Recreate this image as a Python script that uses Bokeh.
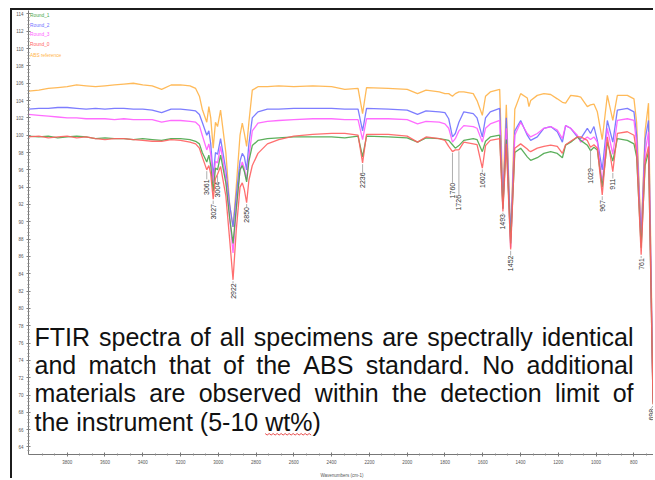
import numpy as np
from bokeh.plotting import figure
from bokeh.models import Range1d, FixedTicker
from bokeh.core.properties import value
from bokeh.embed import file_html
from bokeh.resources import INLINE

# ---------------- data ----------------
wavenumber = [4005, 3950, 3900, 3850, 3800, 3750, 3700, 3650, 3600, 3550, 3500, 3450, 3400,
              3350, 3300, 3250, 3200, 3150, 3120, 3100, 3085, 3061, 3050, 3040, 3027, 3015,
              3004, 2988, 2960, 2940, 2922, 2905, 2885, 2873, 2862, 2850, 2838, 2820, 2790,
              2740, 2680, 2600, 2500, 2400, 2330, 2260, 2236, 2215, 2100, 2000, 1945, 1900,
              1830, 1800, 1780, 1760, 1745, 1726, 1700, 1650, 1630, 1602, 1585, 1560, 1510,
              1493, 1475, 1452, 1430, 1399, 1364, 1355, 1346, 1311, 1276, 1240, 1205, 1178,
              1161, 1134, 1099, 1081, 1046, 1029, 1011, 993, 967, 940, 911, 887, 834, 799,
              785, 761, 740, 722, 698, 685]

abs_reference = [105.1, 105.2, 105.4, 105.5, 105.6, 105.8, 105.7, 105.6, 105.7, 105.8, 105.9, 106.0, 105.8,
                 105.7, 105.3, 105.8, 105.8, 105.7, 105.4, 104.5, 103.0, 101.5, 103.3, 102.0, 98.5, 101.5,
                 101.0, 102.9, 98.0, 92.0, 89.4, 94.0, 100.0, 101.4, 100.2, 98.7, 101.5, 105.2, 105.6,
                 105.6, 105.7, 105.6, 105.7, 105.6, 105.3, 105.4, 102.5, 105.5, 105.4, 105.3, 104.8, 105.2,
                 105.0, 104.8, 104.8, 104.5, 104.8, 105.0, 105.0, 104.8, 104.0, 102.3, 104.5, 105.0, 105.3,
                 93.0, 103.5, 88.0, 103.0, 104.8, 104.3, 103.3, 104.0, 104.6, 104.8, 104.7, 104.2, 103.8,
                 103.7, 104.6, 104.5, 104.4, 103.3, 103.5, 103.6, 102.7, 99.5, 104.6, 101.7, 104.6, 104.6, 104.2,
                 101.5, 88.5, 100.5, 103.7, 70.0, 72.0]

round_2 = [103.0, 103.1, 103.1, 103.2, 103.2, 103.1, 103.0, 103.1, 103.0, 103.1, 103.1, 103.0, 103.0,
           102.9, 102.6, 103.0, 103.0, 102.9, 102.8, 102.4, 101.5, 100.0, 100.5, 99.0, 95.2, 98.0,
           97.8, 99.6, 96.0, 92.0, 89.4, 93.0, 97.0, 97.9, 97.5, 96.0, 99.0, 102.0, 102.7,
           103.0, 103.0, 103.1, 103.1, 103.1, 103.0, 103.0, 100.5, 103.1, 103.0, 102.9, 102.4, 102.8,
           102.7, 102.6, 101.9, 99.8, 100.2, 101.5, 102.7, 102.5, 102.0, 99.8, 102.0, 102.7, 103.1,
           92.0, 102.0, 88.2, 100.5, 101.7, 100.0, 99.7, 99.4, 99.8, 100.8, 101.0, 100.4, 99.2,
           101.1, 100.8, 99.8, 99.6, 100.8, 100.2, 101.0, 99.4, 96.0, 101.7, 99.2, 102.9, 103.1, 102.7,
           100.0, 88.0, 99.5, 101.7, 69.5, 71.5]

round_3 = [102.4, 102.3, 102.2, 102.1, 102.0, 102.0, 101.9, 101.9, 101.9, 101.8, 101.9, 101.8, 101.8,
           101.8, 101.5, 101.7, 101.7, 101.6, 101.5, 101.1, 100.0, 98.3, 99.0, 97.8, 94.5, 97.0,
           96.8, 98.7, 95.0, 90.5, 86.4, 91.5, 96.0, 96.9, 96.2, 94.8, 97.5, 100.5, 101.4,
           101.6, 101.7, 101.8, 101.9, 101.9, 101.8, 101.8, 99.5, 101.9, 101.9, 101.8, 101.3, 101.6,
           101.5, 101.3, 100.8, 99.2, 99.6, 100.5, 101.1, 101.0, 100.8, 99.2, 100.8, 101.3, 101.7,
           91.5, 100.8, 87.0, 100.0, 101.5, 100.2, 100.0, 99.8, 100.2, 100.8, 101.0, 100.6, 99.6,
           101.1, 100.8, 100.0, 99.2, 99.8, 99.5, 99.8, 99.2, 94.5, 100.8, 97.8, 101.7, 101.9, 101.7,
           99.0, 87.5, 98.0, 100.4, 69.2, 71.0]

round_1 = [99.9, 99.8, 99.9, 99.7, 99.8, 99.9, 99.8, 99.6, 99.7, 99.6, 99.6, 99.5, 99.6,
           99.5, 99.4, 99.6, 99.6, 99.5, 99.3, 99.0, 98.0, 96.9, 97.7, 96.5, 93.5, 96.2,
           96.0, 97.7, 94.5, 90.5, 87.5, 91.5, 96.0, 96.5, 95.8, 94.6, 97.0, 98.8, 99.4,
           99.6, 99.7, 99.8, 99.8, 99.8, 99.7, 99.9, 97.5, 99.9, 99.8, 99.7, 99.2, 99.7,
           99.6, 99.5, 99.4, 98.9, 98.5, 98.8, 99.4, 99.6, 99.5, 98.1, 99.3, 99.8, 100.0,
           91.5, 99.5, 87.5, 98.0, 98.5, 97.5, 97.3, 97.1, 97.4, 97.9, 98.1, 97.9, 97.4,
           98.85, 99.2, 99.8, 99.4, 98.85, 98.2, 98.6, 98.3, 94.0, 99.2, 97.0, 99.6, 99.4, 99.0,
           97.5, 87.0, 96.5, 98.1, 69.0, 71.0]

round_0 = [99.8, 99.9, 99.7, 99.8, 99.9, 99.7, 99.8, 99.6, 99.5, 99.6, 99.6, 99.5, 99.4,
           99.3, 99.3, 99.5, 99.4, 99.2, 99.0, 98.5, 97.5, 96.0, 96.5, 95.5, 92.6, 95.0,
           95.5, 96.4, 93.0, 88.0, 83.3, 89.0, 94.0, 94.5, 93.7, 92.2, 94.8, 96.5, 97.9,
           99.0, 99.5, 99.9, 100.1, 100.2, 100.2, 100.0, 96.8, 100.1, 100.1, 99.9, 99.2, 99.8,
           99.6, 99.4, 98.7, 98.1, 98.3, 98.3, 99.2, 99.0, 98.9, 96.2, 98.8, 99.4, 99.6,
           91.2, 99.0, 86.8, 98.5, 99.0, 98.4, 98.2, 98.1, 98.5, 98.7, 98.85, 98.7, 97.9,
           98.9, 99.3, 99.8, 99.8, 99.4, 98.6, 98.9, 98.5, 93.1, 99.8, 95.8, 100.2, 100.4, 100.0,
           98.0, 86.2, 97.0, 98.7, 68.9, 70.5]

series_names = ["Round_1", "Round_2", "Round_3", "Round_0", "ABS reference"]
series_colors = ["#4aa64a", "#6f6fff", "#ff5cff", "#ff5f5f", "#ffb347"]

peak_wn = [3061, 3027, 3004, 2922, 2850, 2236, 1760, 1726, 1602, 1493, 1452, 1029, 967, 911, 761, 698]
peak_label_top = [94.9, 92.05, 94.6, 82.9, 91.7, 95.7, 94.5, 93.1, 95.7, 90.9, 86.1, 96.2, 92.5, 95.0, 85.8, 68.4]

x_ticks = list(range(3800, 799, -200))
y_ticks = list(range(64, 115, 2))

caption_lines = [
    "FTIR spectra of all specimens are spectrally identical",
    "and match that of the ABS standard. No additional",
    "materials are observed within the detection limit of",
    "the instrument (5-10 wt%)",
]

# ---------------- geometry helpers (page pixels -> data) ----------------
FR_L, FR_R, FR_T, FR_B = 28.0, 655.0, 10.0, 455.0
X0, X1 = 4005.0, 685.0
Y0, Y1 = 63.13, 114.40


def px2wn(px):
    return X0 + (px - FR_L) * (X1 - X0) / (FR_R - FR_L)


def py2v(py):
    return Y1 - (py - FR_T) * (Y1 - Y0) / (FR_B - FR_T)


AW = {}
for ch, w in zip("abcdefghijklmnopqrstuvwxyz",
                 [556, 556, 500, 556, 556, 278, 556, 556, 222, 222, 500, 222, 833, 556, 556, 556,
                  556, 333, 500, 278, 556, 500, 722, 500, 500, 500]):
    AW[ch] = w
for ch, w in zip("ABCDEFGHIJKLMNOPQRSTUVWXYZ",
                 [667, 667, 722, 722, 667, 611, 778, 722, 278, 500, 667, 556, 833, 722, 778, 667,
                  778, 722, 667, 611, 722, 667, 944, 667, 667, 611]):
    AW[ch] = w
for ch in "0123456789":
    AW[ch] = 556
AW.update({" ": 278, ".": 278, ",": 278, "(": 333, ")": 333, "-": 333, "%": 889})


def tw(s, fs):
    return sum(AW.get(c, 556) for c in s) * fs / 1000.0


# ---------------- figure ----------------
p = figure(width=643, height=470, output_backend="svg", toolbar_location=None,
           x_range=Range1d(X0, X1), y_range=Range1d(Y0, Y1),
           min_border_left=16, min_border_right=0, min_border_top=0, min_border_bottom=25)
p.styles = {"margin-left": "10px", "margin-top": "8px",
            "border-left": "2px solid #1c1c1c", "border-top": "2px solid #1c1c1c"}
p.outline_line_color = None
p.xgrid.visible = False
p.ygrid.visible = False
p.background_fill_color = "white"
p.border_fill_color = "white"

minor_x = [t - k * 200.0 / 3 for t in [4000] + x_ticks for k in (1, 2)]
p.xaxis.ticker = FixedTicker(ticks=x_ticks, minor_ticks=minor_x)
p.yaxis.ticker = FixedTicker(ticks=y_ticks, minor_ticks=list(np.arange(63.6, 114.4, 0.4)))
for ax in (p.xaxis, p.yaxis):
    ax.axis_line_color = "#777777"
    ax.major_tick_line_color = "#777777"
    ax.minor_tick_line_color = "#888888"
    ax.major_tick_in = 2
    ax.major_tick_out = 2
    ax.minor_tick_in = 1
    ax.minor_tick_out = 1
    ax.major_label_text_font = "Liberation Sans"
    ax.major_label_text_font_size = "4.5px"
    ax.major_label_text_color = "#555555"
    ax.major_label_standoff = 3
p.xaxis.axis_label = "Wavenumbers (cm-1)"
p.xaxis.axis_label_text_font = "Liberation Sans"
p.xaxis.axis_label_text_font_size = "4.5px"
p.xaxis.axis_label_text_font_style = "normal"
p.xaxis.axis_label_text_color = "#555555"
p.xaxis.axis_label_standoff = 6

# spectra
series = [abs_reference, round_2, round_3, round_1, round_0]
cols = [series_colors[4], series_colors[1], series_colors[2], series_colors[0], series_colors[3]]
for ys, c in zip(series, cols):
    p.line(wavenumber, ys, line_color=c, line_width=1.3, line_alpha=0.9)

# peak labels with leader lines (last label nudged inside the right edge)
label_x = [w if w > 720 else px2wn(650.5) for w in peak_wn]
red_at = np.interp(peak_wn, wavenumber[::-1], round_0[::-1])
p.segment(x0=peak_wn, y0=list(red_at - 0.15), x1=label_x, y1=peak_label_top,
          line_color="#9a9a9a", line_width=0.8)
p.text(x=label_x, y=peak_label_top, text=[str(w) for w in peak_wn], angle=np.pi / 2,
       text_align="right", text_baseline="middle", text_font=value("Liberation Sans"),
       text_font_size=value("7px"), text_color="#333333")

# legend (coloured labels)
leg_y = [15, 25, 34.5, 44, 55.5]
p.text(x=[px2wn(29.5)] * 5, y=[py2v(v) for v in leg_y], text=series_names,
       text_color=series_colors, text_align="left", text_baseline="middle",
       text_font=value("Liberation Sans"), text_font_size=value("4.8px"))

# caption, justified
FS = 25
LEFT, RIGHT = 34.0, 633.0
baselines = [337, 365, 393, 422]
wx, wy, wt = [], [], []
for i, line in enumerate(caption_lines):
    if i < 3:
        words = line.split(" ")
        widths = [tw(w, FS) for w in words]
        gap = (RIGHT - LEFT - sum(widths)) / (len(words) - 1)
        x = LEFT
        for w, wd in zip(words, widths):
            wx.append(px2wn(x)); wy.append(py2v(baselines[i])); wt.append(w)
            x += wd + gap
    else:
        wx.append(px2wn(LEFT)); wy.append(py2v(baselines[i])); wt.append(line)
p.text(x=wx, y=wy, text=wt, text_align="left", text_baseline="alphabetic",
       text_font=value("Liberation Sans"), text_font_size=value(f"{FS}px"), text_color="#111111")

# red spell-check squiggle under "wt%"
sx0 = LEFT + tw("the instrument (5-10 ", FS)
sx1 = sx0 + tw("wt%", FS)
sq_x = np.arange(sx0, sx1, 2.0)
sq_y = 434.0 + np.where(np.arange(len(sq_x)) % 2 == 0, 0.0, 1.5)
p.line([px2wn(v) for v in sq_x], [py2v(v) for v in sq_y], line_color="#e02020", line_width=0.8)

open("out.html", "w").write(file_html(p, INLINE))
